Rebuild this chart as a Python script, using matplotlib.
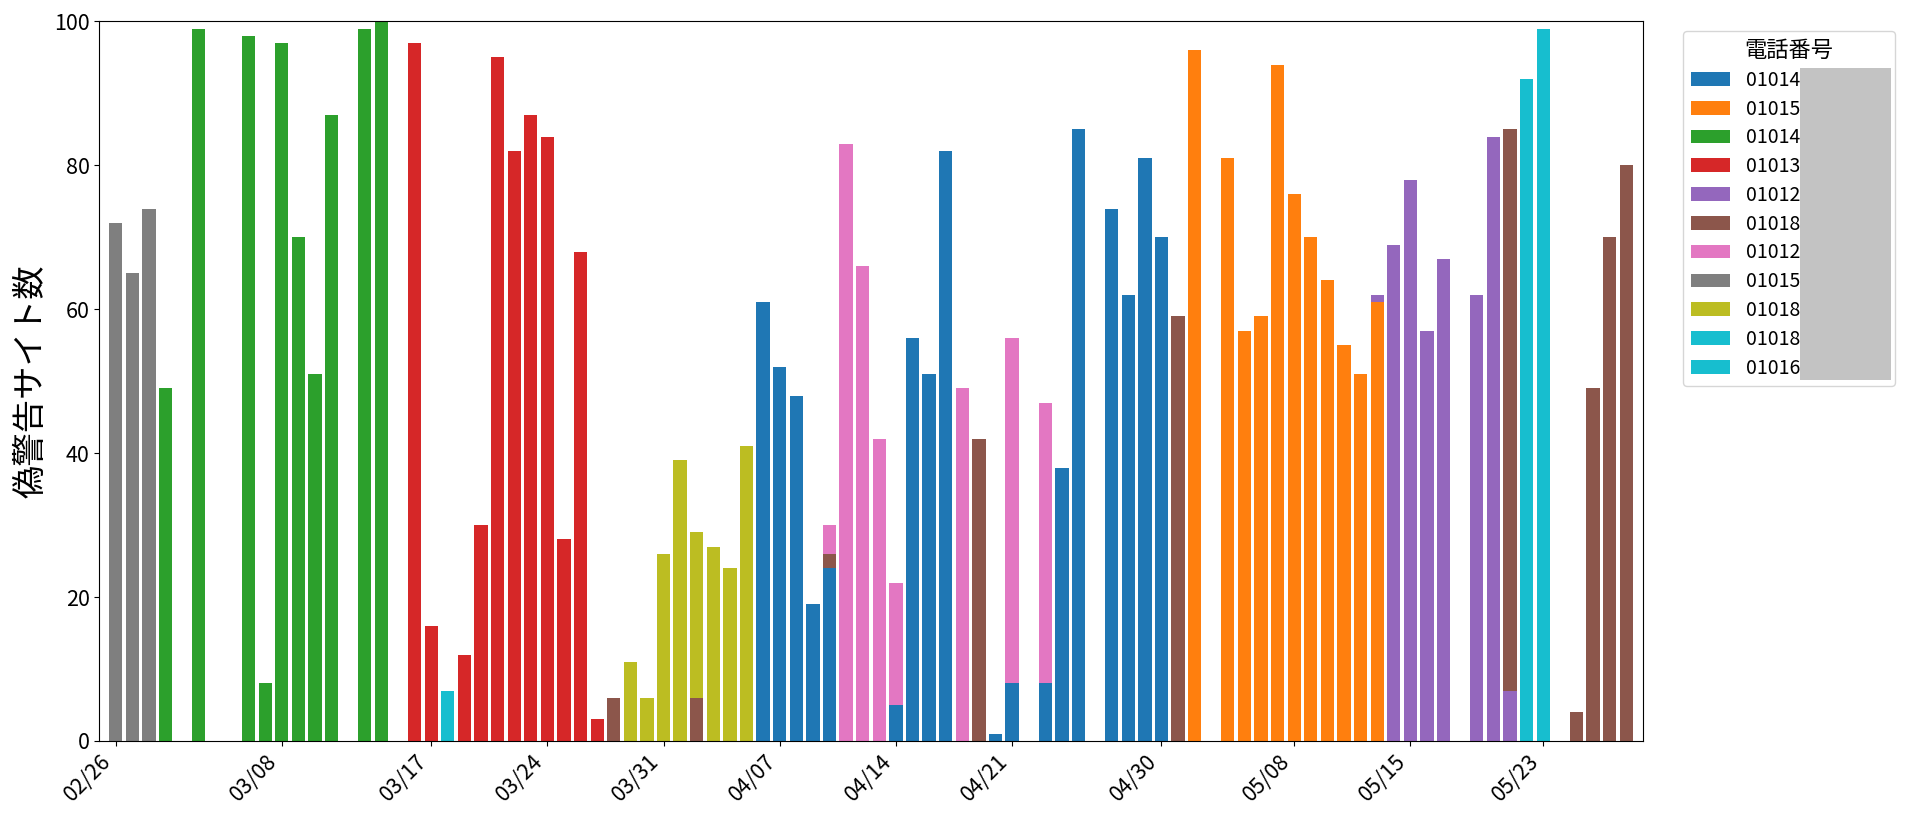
import numpy as np
import pandas as pd
import matplotlib
matplotlib.use('Agg')
import matplotlib.pyplot as plt
import matplotlib.dates as mdates
from matplotlib.patches import Rectangle

plt.rcParams['font.family'] = ['Noto Sans CJK JP', 'DejaVu Sans']

# 日付 (2023年)
start_day = '2023-02-26'
end_day = '2023-05-28'

# 電話番号ごとの偽警告サイト数 (番号の後半は伏せ字)
labels = ['01014', '01015', '01014', '01013', '01012', '01018',
          '01012', '01015', '01018', '01018', '01016']

s0 = {'04/06': 61, '04/07': 52, '04/08': 48, '04/09': 19, '04/10': 24, '04/14': 5,
      '04/15': 56, '04/16': 51, '04/17': 82, '04/20': 1, '04/21': 8, '04/23': 8,
      '04/24': 38, '04/25': 85, '04/27': 74, '04/28': 62, '04/29': 81, '04/30': 70}
s1 = {'05/02': 96, '05/04': 81, '05/05': 57, '05/06': 59, '05/07': 94, '05/08': 76,
      '05/09': 70, '05/10': 64, '05/11': 55, '05/12': 51, '05/13': 61}
s2 = {'03/01': 49, '03/03': 99, '03/06': 98, '03/07': 8, '03/08': 97, '03/09': 70,
      '03/10': 51, '03/11': 87, '03/13': 99, '03/14': 100}
s3 = {'03/16': 97, '03/17': 16, '03/19': 12, '03/20': 30, '03/21': 95, '03/22': 82,
      '03/23': 87, '03/24': 84, '03/25': 28, '03/26': 68, '03/27': 3}
s4 = {'05/13': 1, '05/14': 69, '05/15': 78, '05/16': 57, '05/17': 67, '05/19': 62,
      '05/20': 84, '05/21': 7}
s5 = {'03/28': 6, '04/02': 6, '04/10': 2, '04/19': 42, '05/01': 59, '05/21': 78,
      '05/25': 4, '05/26': 49, '05/27': 70, '05/28': 80}
s6 = {'04/10': 4, '04/11': 83, '04/12': 66, '04/13': 42, '04/14': 17, '04/18': 49,
      '04/21': 48, '04/23': 39}
s7 = {'02/26': 72, '02/27': 65, '02/28': 74}
s8 = {'03/29': 11, '03/30': 6, '03/31': 26, '04/01': 39, '04/02': 23, '04/03': 27,
      '04/04': 24, '04/05': 41}
s9 = {'03/18': 7}
s10 = {'05/22': 92, '05/23': 99}
series = [s0, s1, s2, s3, s4, s5, s6, s7, s8, s9, s10]

tick_days = ['02/26', '03/08', '03/17', '03/24', '03/31', '04/07', '04/14',
             '04/21', '04/30', '05/08', '05/15', '05/23']

# 表にする
days = pd.date_range(start_day, end_day, freq='D')
keys = days.strftime('%m/%d')
df = pd.DataFrame({i: [s.get(k, 0) for k in keys] for i, s in enumerate(series)}, index=days)

colors = plt.cm.tab10(np.linspace(0, 1, len(series)))

fig = plt.figure(figsize=(19.08, 8.26), dpi=100)
ax = fig.add_axes([0.052, 0.103, 0.809, 0.871])

bottom = np.zeros(len(df))
for i, col in enumerate(df.columns):
    # 後ろの8桁は伏せ字で隠す
    ax.bar(df.index, df[col].values, width=0.8, bottom=bottom, color=colors[i], label=labels[i] + '00000000')
    bottom += df[col].values

ax.set_ylim(0, 100)
ax.set_xlim(days[0] - pd.Timedelta(days=1), days[-1] + pd.Timedelta(days=1))
ax.set_xticks([pd.Timestamp('2023/' + t) for t in tick_days])
ax.xaxis.set_major_formatter(mdates.DateFormatter('%m/%d'))
plt.setp(ax.get_xticklabels(), rotation=45, ha='right')
ax.tick_params(labelsize=15.5)
ax.set_ylabel('偽警告サイト数', fontsize=24)

leg = ax.legend(title='電話番号', bbox_to_anchor=(1.02, 1), loc='upper left',
                fontsize=14, title_fontsize=16, labelspacing=0.4)

# 伏せ字の灰色の箱
fig.canvas.draw()
r = fig.canvas.get_renderer()
W, H = fig.bbox.width, fig.bbox.height
fb = leg.get_frame().get_window_extent(r)
texts = leg.get_texts()
tb0 = texts[0].get_window_extent(r)
tb1 = texts[-1].get_window_extent(r)
pw, _, _ = r.get_text_width_height_descent(labels[0], texts[0].get_fontproperties(), ismath=False)
x0 = tb0.x0 + pw
x1 = fb.x1 - 4
y1 = tb0.y1 + 2
y0 = fb.y0 + 6
fig.patches.append(Rectangle((x0 / W, y0 / H), (x1 - x0) / W, (y1 - y0) / H,
                             transform=fig.transFigure, facecolor='#c3c3c3',
                             edgecolor='none', zorder=10))

fig.savefig('out.png', dpi=100)
